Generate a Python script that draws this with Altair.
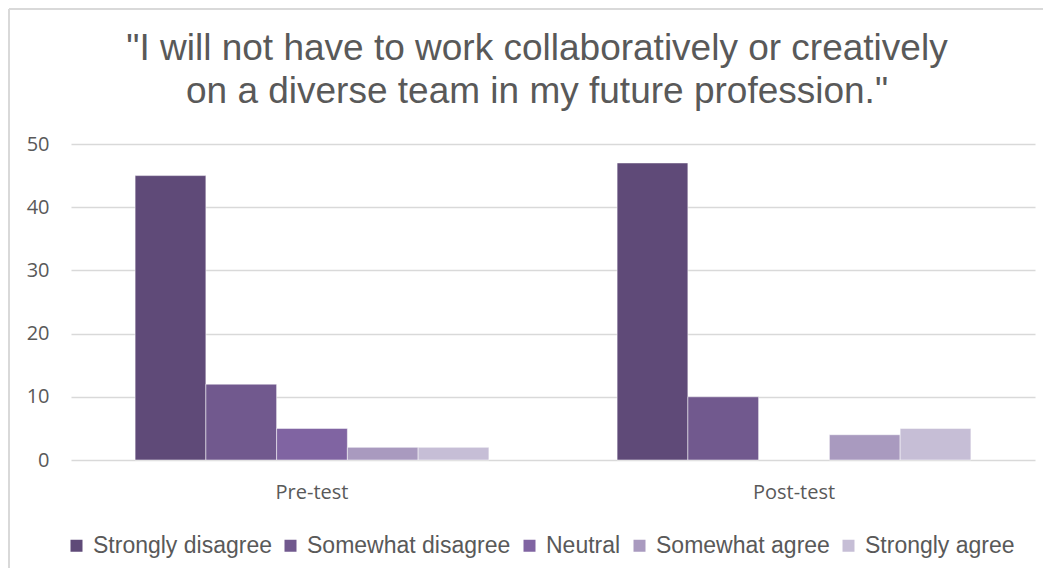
import altair as alt
import pandas as pd

groups = ["Pre-test", "Post-test"]
responses = ["Strongly disagree", "Somewhat disagree", "Neutral", "Somewhat agree", "Strongly agree"]
pre_values = [45, 12, 5, 2, 2]
post_values = [47, 10, 0, 4, 5]
colors = ["#5F4A78", "#71598E", "#8064A2", "#A99ABF", "#C6BED6"]
y_ticks = [0, 10, 20, 30, 40, 50]
title_lines = ['"I will not have to work collaboratively or creatively',
               'on a diverse team in my future profession."']

rows = []
for g, vals in zip(groups, [pre_values, post_values]):
    for r, v in zip(responses, vals):
        rows.append({"group": g, "response": r, "value": v})
df = pd.DataFrame(rows)

W, H = 964, 316
PL, PT = 63, 136
PR = 1035 - PL - W
PB = 560 - PT - H

bars = alt.Chart(df).transform_filter("datum.value > 0").mark_bar(
    stroke="white", strokeWidth=1, strokeOpacity=0.5
).encode(
    x=alt.X("group:N", sort=groups, title=None,
            scale=alt.Scale(paddingInner=0.266, paddingOuter=0.133),
            axis=alt.Axis(labelAngle=0, ticks=False, domain=False, labelFont="Open Sans",
                          labelFontSize=20, labelColor="#595959", labelPadding=22)),
    xOffset=alt.XOffset("response:N", sort=responses,
                        scale=alt.Scale(paddingInner=0, paddingOuter=0)),
    y=alt.Y("value:Q", title=None,
            scale=alt.Scale(domain=[0, 50], nice=False),
            axis=alt.Axis(values=y_ticks, ticks=False, domain=False, grid=True,
                          gridColor="#D9D9D9", gridWidth=1.5, labelFont="Open Sans",
                          labelFontSize=20, labelColor="#595959", labelPadding=22)),
    color=alt.Color("response:N", sort=responses,
                    scale=alt.Scale(domain=responses, range=colors),
                    legend=alt.Legend(title=None, orient="none", direction="horizontal",
                                      legendX=-6, legendY=390, symbolType="square",
                                      symbolSize=144, symbolStrokeWidth=0,
                                      labelFont="Liberation Sans", labelFontSize=23,
                                      labelColor="#595959", columnPadding=7,
                                      labelOffset=5, labelLimit=0)),
)

border_left = alt.Chart(df).mark_rule(color="#D9D9D9", strokeWidth=1.5).encode(
    x=alt.value(-PL + 1), y=alt.value(-PT + 1), y2=alt.value(H + PB)
)
border_top = alt.Chart(df).mark_rule(color="#D9D9D9", strokeWidth=1.5).encode(
    x=alt.value(-PL + 1), x2=alt.value(W + PR), y=alt.value(-PT + 1)
)

chart = alt.layer(bars, border_left, border_top).properties(
    width=W, height=H,
    padding={"left": PL, "top": PT, "right": PR, "bottom": PB},
    autosize=alt.AutoSizeParams(type="none"),
    title=alt.TitleParams(title_lines, font="Liberation Sans", fontSize=37,
                          fontWeight="normal", color="#595959", anchor="middle",
                          lineHeight=43, offset=30, dx=-16, dy=133),
).configure_view(stroke=None)

chart.save("out.html", embed_options={"renderer": "svg", "actions": False})
